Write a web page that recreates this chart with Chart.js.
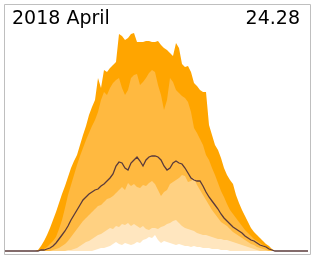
<!DOCTYPE html>
<html>
<head>
<meta charset="utf-8">
<script src="https://cdn.jsdelivr.net/npm/chart.js@4.4.1/dist/chart.umd.min.js"></script>
<style>
  html, body { margin: 0; padding: 0; background: #fff; }
  #wrap { position: relative; width: 314px; height: 256px; }
  canvas { display: block; }
  .lbl { position: absolute; top: 8px; font: 19px/19px "DejaVu Sans", sans-serif; color: #000; white-space: nowrap; }
  #month { left: 12px; }
  #total { right: 14px; }
</style>
</head>
<body>
<div id="wrap">
  <canvas id="c" width="314" height="256"></canvas>
  <div class="lbl" id="month">2018 April</div>
  <div class="lbl" id="total">24.28</div>
</div>
<script>
// daily profile, 102 time slots, percentile bands
const slots = Array.from({ length: 102 }, (_, i) => i);

const pMax = [0,0,0,0,0,0,0,0,0,0,
  0,1,5,10,16,23,31,39,48,57,65,74,83,90,96,106,116,125,136,144,151,173,163,181,179,183,186,189,217,215,211,213,217,218,209,209,209,210,210,209,209,210,206,203,201,198,195,208,203,187,184,185,179,168,165,161,159,159,126,116,106,101,93,83,76,71,67,56,48,41,35,29,23,19,16,13,10,7,5,2,0,
  0,0,0,0,0,0,0,0,0,0,0];

const p90 = [0,0,0,0,0,0,0,0,0,0,
  0,0,1,2,4,7,10,14,22,31,43,56,66,76,86,95,103,111,118,125,131,139,151,159,156,163,168,171,173,163,156,161,173,176,177,166,169,173,178,181,179,166,156,141,151,173,169,161,158,155,153,149,139,123,118,112,106,96,91,83,76,68,60,54,47,41,37,33,29,25,21,18,15,12,10,8,6,4,2,1,0,
  0,0,0,0,0,0,0,0,0,0,0];

const p50 = [0,0,0,0,0,0,0,0,0,0,
  0,0,1,1,2,3,5,8,12,16,20,25,31,36,41,46,51,54,57,59,61,62,65,67,70,73,77,85,89,88,83,81,88,91,94,90,85,91,94,95,95,94,91,85,81,83,88,90,88,87,83,78,73,71,70,70,65,59,54,50,46,42,37,33,30,27,24,22,20,18,15,13,11,10,8,6,5,4,2,1,0,
  0,0,0,0,0,0,0,0,0,0,0];

const p25 = [0,0,0,0,0,0,0,0,0,0,
  0,0,0,0,0,0,1,2,3,5,7,10,14,18,22,26,30,33,36,39,42,45,46,49,52,53,55,58,61,64,61,68,65,67,64,63,66,65,68,70,67,61,55,59,61,67,69,71,73,76,75,69,70,73,66,61,56,51,46,41,37,33,29,27,25,22,19,17,15,13,11,9,7,6,4,3,2,1,0,0,0,
  0,0,0,0,0,0,0,0,0,0,0];

const p10 = [0,0,0,0,0,0,0,0,0,0,
  0,0,0,0,0,0,0,0,0,0,0,1,1,2,3,5,7,9,10,12,14,16,17,19,21,23,22,25,24,27,26,28,25,27,25,23,25,22,21,23,23,22,24,25,27,28,30,31,28,25,23,22,21,20,18,17,16,16,15,14,13,12,12,11,11,10,9,8,7,6,5,4,3,2,1,0,0,0,0,0,0,
  0,0,0,0,0,0,0,0,0,0,0];

const pMin = [0,0,0,0,0,0,0,0,0,0,
  0,0,0,0,0,0,0,0,0,0,0,0,0,0,0,0,0,0,0,0,1,2,3,3,4,5,7,9,7,6,8,7,6,7,9,8,11,12,14,13,16,11,8,10,9,8,7,6,7,6,5,5,4,5,4,4,3,3,3,2,2,2,1,1,1,0,0,0,0,0,0,0,0,0,0,0,0,0,0,0,0,
  0,0,0,0,0,0,0,0,0,0,0];

function pts(arr) {
  return slots.map((s, i) => ({ x: s, y: arr[i] }));
}

function band(values, color, order) {
  return {
    data: pts(values),
    backgroundColor: color,
    borderColor: "rgba(0,0,0,0)",
    borderWidth: 0,
    pointRadius: 0,
    fill: "origin",
    order: order,
  };
}

// cadre gris autour de la zone
const framePlugin = {
  id: "frame",
  afterDatasetsDraw(chart) {
    const { ctx, chartArea: a } = chart;
    ctx.save();
    ctx.strokeStyle = "#bfbfbf";
    ctx.lineWidth = 1;
    ctx.beginPath();
    ctx.rect(Math.round(a.left) + 0.5, Math.round(a.top) + 0.5,
             Math.round(a.right - a.left), Math.round(a.bottom - a.top));
    ctx.stroke();
    ctx.restore();
  }
};

new Chart(document.getElementById("c"), {
  type: "line",
  data: {
    datasets: [
      {
        data: pts(p50),
        borderColor: "#5b3b3b",
        borderWidth: 1.3,
        pointRadius: 0,
        fill: false,
        order: 0,
      },
      band(pMin, "#ffffff", 1),
      band(p10, "#ffe6bf", 2),
      band(p25, "#ffd182", 3),
      band(p90, "#ffb940", 4),
      band(pMax, "#ffa500", 5),
    ]
  },
  options: {
    responsive: false,
    animation: false,
    layout: { padding: { left: 4, right: 4, top: 4, bottom: 2 } },
    elements: { line: { tension: 0 } },
    plugins: { legend: { display: false }, tooltip: { enabled: false } },
    scales: {
      x: { type: "linear", display: false, min: -1 / 3, max: 101 + 2 / 3 },
      y: { display: false, min: -3, max: 247 }
    }
  },
  plugins: [framePlugin]
});
</script>
</body>
</html>
